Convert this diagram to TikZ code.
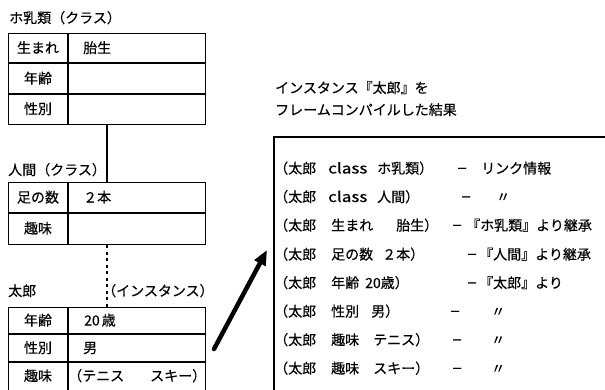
\documentclass[tikz,border=0pt]{standalone}
\usepackage{fontspec}
\usepackage{graphicx}
\setmainfont{Noto Sans CJK JP}[FakeBold=0.25]
\usetikzlibrary{arrows.meta}
\newcommand\putat[2]{\makebox[0pt][l]{\hspace{#1}#2}}
\newcommand\dsh{\raisebox{1pt}{\fontsize{11}{12}\selectfont －}}
\newcommand\cls{\scalebox{1.22}[1.03]{class}}
\begin{document}
\begin{tikzpicture}[x=1pt,y=-1pt,
  txt/.style={inner sep=0pt, anchor=base west, font=\fontsize{14}{16}\selectfont},
  lbl/.style={inner sep=0pt, anchor=base, font=\fontsize{14}{16}\selectfont},
  tbl/.style={draw, line width=1.3pt, inner sep=0pt, anchor=north west, minimum width=197pt},
  rule/.style={line width=1.3pt},
  conn/.style={line width=1.3pt}]
\useasboundingbox (0,0) rectangle (605,389);
\fill[white] (0,0) rectangle (605,389);
\clip (0,0) rectangle (605,389);
\coordinate (xv) at (107,0);

% --- table 1: ホ乳類 ---
\node[txt] (n1) at (9,23) {ホ乳類（クラス）};
\node[tbl, minimum height=91pt] (t1) at (8,33) {};
\draw[rule] (8,63) -- (205,63) (8,94) -- (205,94) (68,33) -- (68,124);
\node[lbl] (t1a) at (38,53) {生まれ};
\node[txt] (t1b) at (83,53) {胎生};
\node[lbl] (t1c) at (38,83.5) {年齢};
\node[lbl] (t1d) at (38,114) {性別};

% --- table 2: 人間 ---
\node[txt] (n2) at (8,175) {人間（クラス）};
\node[tbl, minimum height=62pt] (t2) at (8,182) {};
\draw[rule] (8,213) -- (205,213) (68,182) -- (68,244);
\node[lbl] (t2a) at (38,202.5) {足の数};
\node[txt] (t2b) at (83,202.5) {２本};
\node[lbl] (t2c) at (38,233.5) {趣味};

% --- table 3: 太郎 ---
\node[txt] (n3) at (8,296) {太郎};
\node[txt] (n3b) at (102,296) {（インスタンス）};
\node[tbl, minimum height=87pt] (t3) at (8,307) {};
\draw[rule] (8,334) -- (205,334) (8,362) -- (205,362) (68,307) -- (68,394);
\node[lbl] (t3a) at (38,325.5) {年齢};
\node[txt] (t3b) at (84,325.5) {20\kern2pt 歳};
\node[lbl] (t3c) at (38,353) {性別};
\node[txt] (t3d) at (83,353) {男};
\node[lbl] (t3e) at (38,381) {趣味};
\node[txt] (t3f) at (82,381) {\llap{（}テニス\hspace{26pt}スキー）};

% --- connectors ---
\draw[conn] (t1.south -| xv) -- (t2.north -| xv);
\draw[conn, dash pattern=on 3pt off 3.5pt] (t2.south -| xv) -- (t3.north -| xv);

% --- arrow ---
\coordinate (atail) at (214,349);
\coordinate (ahead) at (267,250);
\draw[line width=4.5pt, line cap=round, -{Triangle[length=15pt,width=12pt]}] (atail) -- (ahead);

% --- result ---
\node[txt] (h1) at (275,93) {インスタンス『太郎』を};
\node[txt] (h2) at (275,115) {フレームコンパイルした結果};
\coordinate (fr1) at (610,137);
\coordinate (fr2) at (274,137);
\coordinate (fr3) at (274,395);
\draw[line width=1.4pt] (fr1) -- (fr2) -- (fr3);

\node[txt] (r1) at (274,173.5) {\putat{0pt}{（太郎}\putat{54pt}{\cls}\putat{103pt}{ホ乳類）}\putat{182.5pt}{\dsh}\hspace{207pt}リンク情報};
\node[txt] (r2) at (274,202) {\putat{0pt}{（太郎}\putat{54pt}{\cls}\putat{103pt}{人間）}\putat{186.5pt}{\dsh}\hspace{222pt}〃};
\node[txt] (r3) at (274,230.5) {\putat{0pt}{（太郎}\putat{57pt}{生まれ}\putat{122pt}{胎生）}\putat{177.5pt}{\dsh}\hspace{192pt}『ホ乳類』より継承};
\node[txt] (r4) at (274,259.5) {\putat{0pt}{（太郎}\putat{57pt}{足の数}\putat{108pt}{２本）}\putat{192.5pt}{\dsh}\hspace{205pt}『人間』より継承};
\node[txt] (r5) at (274,288) {\putat{0pt}{（太郎}\putat{57pt}{年齢}\putat{91pt}{20歳）}\putat{192.5pt}{\dsh}\hspace{205pt}『太郎』より};
\node[txt] (r6) at (274,316.5) {\putat{0pt}{（太郎}\putat{57pt}{性別}\putat{97pt}{男）}\putat{175.5pt}{\dsh}\hspace{217pt}〃};
\node[txt] (r7) at (274,345) {\putat{0pt}{（太郎}\putat{57pt}{趣味}\putat{99pt}{テニス）}\putat{177.5pt}{\dsh}\hspace{217pt}〃};
\node[txt] (r8) at (274,373.5) {\putat{0pt}{（太郎}\putat{57pt}{趣味}\putat{99pt}{スキー）}\putat{177.5pt}{\dsh}\hspace{217pt}〃};
\end{tikzpicture}
\end{document}
